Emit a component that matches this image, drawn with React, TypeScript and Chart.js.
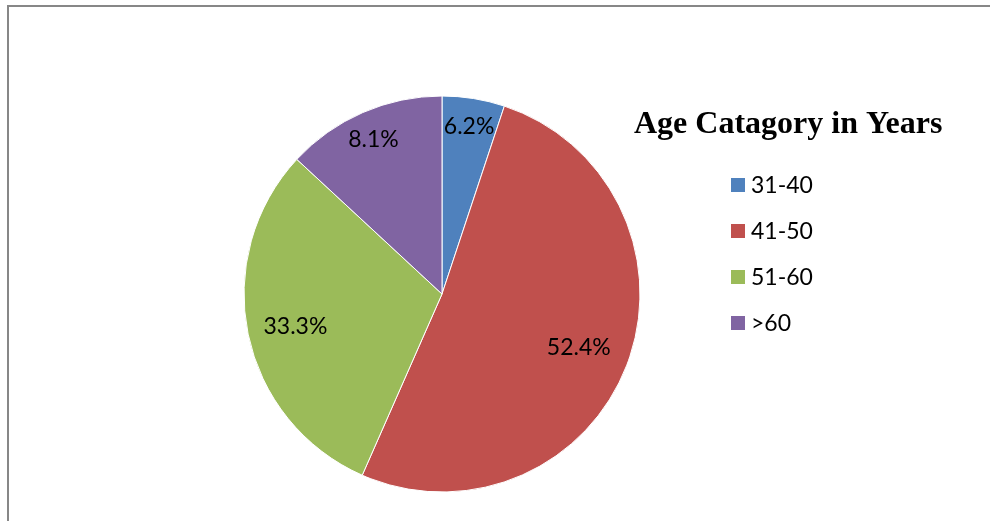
import React, { useEffect, useRef } from "react";
import { Chart, registerables } from "chart.js";

Chart.register(...registerables);

const categories = ["31-40", "41-50", "51-60", ">60"];
// slice sizes as drawn in the picture (share of the circle, %)
const sliceShares = [5.1, 51.5, 30.3, 13.1];
// label texts as printed on the slices
const labelTexts = ["6.2%", "52.4%", "33.3%", "8.1%"];
const colors = ["#4F81BD", "#C0504D", "#9BBB59", "#8064A2"];
const legendTitle = "Age Catagory in Years";

const frameAndLegend = {
  id: "frameAndLegend",
  afterDraw(chart: any) {
    const ctx = chart.ctx;
    ctx.save();
    // frame
    ctx.fillStyle = "#878787";
    ctx.fillRect(7, 5, chart.width - 7, 2);
    ctx.fillRect(7, 5, 2, chart.height - 5);
    // labels on slices
    const meta = chart.getDatasetMeta(0);
    const shifts = [0, 0.4, -0.7, -0.4];
    const fracs = [0.857, 0.742, 0.758, 0.851];
    ctx.fillStyle = "#000";
    ctx.font = "23px Lato";
    ctx.textAlign = "center";
    ctx.textBaseline = "middle";
    meta.data.forEach((arc: any, i: number) => {
      const { x, y, startAngle, endAngle, outerRadius } = arc.getProps(
        ["x", "y", "startAngle", "endAngle", "outerRadius"],
        true
      );
      const mid = (startAngle + endAngle) / 2 + (shifts[i] * Math.PI) / 180;
      const r = outerRadius * fracs[i];
      ctx.fillText(labelTexts[i], x + Math.cos(mid) * r, y + Math.sin(mid) * r);
    });
    // legend
    ctx.textAlign = "left";
    ctx.textBaseline = "alphabetic";
    ctx.font = "bold 32px 'Liberation Serif'";
    ctx.fillText(legendTitle, 634, 133);
    ctx.font = "23px Lato";
    ctx.textBaseline = "middle";
    categories.forEach((c, i) => {
      const cy = 185 + i * 46;
      ctx.fillStyle = colors[i];
      ctx.fillRect(731, cy - 7, 14, 14);
      ctx.fillStyle = "#000";
      ctx.fillText(c, 751, cy + 1);
    });
    ctx.restore();
  },
};

export default function App() {
  const ref = useRef<HTMLCanvasElement | null>(null);
  useEffect(() => {
    if (!ref.current) return;
    const chart = new Chart(ref.current, {
      type: "pie",
      data: {
        labels: categories,
        datasets: [
          {
            data: sliceShares,
            backgroundColor: colors,
            borderColor: "#ffffff",
            borderWidth: 1,
          },
        ],
      },
      options: {
        responsive: false,
        animation: false,
        layout: {
          padding: { left: 243.5, right: 349.5, top: 95.5, bottom: 28.5 },
        },
        plugins: {
          legend: { display: false },
          tooltip: { enabled: false },
        },
      },
      plugins: [frameAndLegend],
    });
    return () => chart.destroy();
  }, []);
  return (
    <div style={{ position: "fixed", left: 0, top: 0, width: 990, height: 521, background: "#fff" }}>
      <canvas ref={ref} width={990} height={521} style={{ display: "block" }} />
    </div>
  );
}
